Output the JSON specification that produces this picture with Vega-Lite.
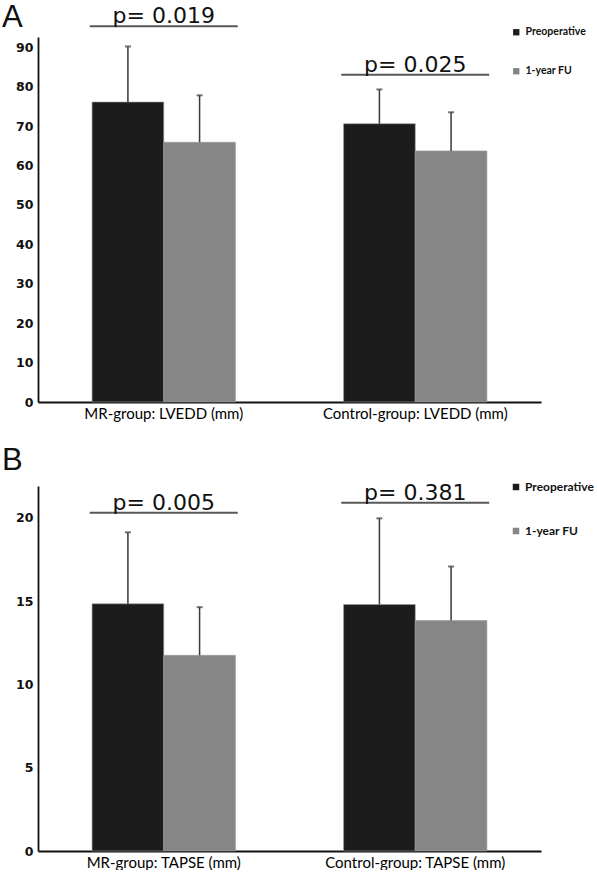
{
  "$schema": "https://vega.github.io/schema/vega-lite/v6.json",
  "background": "white",
  "padding": {"left": 2, "top": 2, "right": 0, "bottom": 0},
  "spacing": 24,
  "config": {
    "view": {"stroke": null},
    "title": {"font": "Liberation Sans", "fontSize": 31, "fontWeight": "normal", "anchor": "start", "frame": "group", "color": "#111111"},
    "axis": {"grid": false, "ticks": false, "domainColor": "#111111", "domainWidth": 1.8, "title": null},
    "axisX": {"labelAngle": 0, "labelFont": "Lato", "labelFontSize": 15, "labelColor": "#000000", "labelPadding": 4, "labelLimit": 320},
    "axisY": {"labelFont": "DejaVu Sans", "labelFontWeight": "bold", "labelFontSize": 12.5, "labelColor": "#111111", "labelPadding": 5},
    "legend": {"padding": 0, "title": null, "symbolType": "square", "symbolStrokeWidth": 0, "labelFont": "Lato", "labelFontWeight": "bold", "labelColor": "#111111", "orient": "none", "labelLimit": 200}
  },
  "resolve": {"scale": {"color": "independent", "x": "independent", "y": "independent", "xOffset": "independent"}, "legend": {"color": "independent"}},
  "vconcat": [
    {
      "title": {"text": "A", "dx": -36, "offset": -29},
      "width": 503,
      "height": 365,
      "data": {"values": [
        {"group": "MR-group: LVEDD (mm)", "series": "Preoperative", "mean": 76.1, "upper": 90.2},
        {"group": "MR-group: LVEDD (mm)", "series": "1-year FU", "mean": 65.9, "upper": 77.8},
        {"group": "Control-group: LVEDD (mm)", "series": "Preoperative", "mean": 70.6, "upper": 79.3},
        {"group": "Control-group: LVEDD (mm)", "series": "1-year FU", "mean": 63.7, "upper": 73.5}
      ]},
      "encoding": {
        "x": {"field": "group", "type": "nominal", "sort": ["MR-group: LVEDD (mm)", "Control-group: LVEDD (mm)"], "scale": {"paddingInner": 0.43, "paddingOuter": 0.215}}
      },
      "layer": [
        {
          "mark": {"type": "bar", "stroke": "#9a9a9a", "strokeWidth": 0.6},
          "encoding": {
            "xOffset": {"field": "series", "type": "nominal", "sort": ["Preoperative", "1-year FU"], "scale": {"paddingInner": 0, "paddingOuter": 0}},
            "y": {"field": "mean", "type": "quantitative", "scale": {"domain": [0, 92.6], "nice": false}, "axis": {"values": [0, 10, 20, 30, 40, 50, 60, 70, 80, 90]}},
            "color": {"field": "series", "type": "nominal", "sort": ["Preoperative", "1-year FU"], "scale": {"domain": ["Preoperative", "1-year FU"], "range": ["#1c1c1c", "#868686"]},
              "legend": {"legendX": 473, "legendY": -10, "symbolSize": 40, "labelFontSize": 10.5, "rowPadding": 28}}
          }
        },
        {
          "mark": {"type": "rule", "color": "#3a3a3a", "strokeWidth": 1.5},
          "encoding": {
            "xOffset": {"field": "series", "type": "nominal", "sort": ["Preoperative", "1-year FU"]},
            "y": {"field": "mean", "type": "quantitative"},
            "y2": {"field": "upper"}
          }
        },
        {
          "mark": {"type": "tick", "color": "#3a3a3a", "size": 6, "thickness": 2, "orient": "horizontal"},
          "encoding": {
            "xOffset": {"field": "series", "type": "nominal", "sort": ["Preoperative", "1-year FU"]},
            "y": {"field": "upper", "type": "quantitative"}
          }
        },
        {
          "data": {"values": [
            {"group": "MR-group: LVEDD (mm)", "pos": 95.3, "label": "p= 0.019"},
            {"group": "Control-group: LVEDD (mm)", "pos": 83.0, "label": "p= 0.025"}
          ]},
          "layer": [
            {"mark": {"type": "tick", "color": "#111111", "size": 148, "thickness": 2, "orient": "horizontal", "clip": false},
             "encoding": {"y": {"field": "pos", "type": "quantitative"}}},
            {"mark": {"type": "text", "font": "DejaVu Sans", "fontSize": 22, "color": "#111111", "baseline": "alphabetic", "dy": -3, "clip": false},
             "encoding": {"y": {"field": "pos", "type": "quantitative"}, "text": {"field": "label"}}}
          ]
        }
      ]
    },
    {
      "title": {"text": "B", "dx": -36, "offset": 4},
      "width": 503,
      "height": 365,
      "data": {"values": [
        {"group": "MR-group: TAPSE (mm)", "series": "Preoperative", "mean": 14.83, "upper": 19.12},
        {"group": "MR-group: TAPSE (mm)", "series": "1-year FU", "mean": 11.74, "upper": 14.63},
        {"group": "Control-group: TAPSE (mm)", "series": "Preoperative", "mean": 14.79, "upper": 19.96},
        {"group": "Control-group: TAPSE (mm)", "series": "1-year FU", "mean": 13.83, "upper": 17.07}
      ]},
      "encoding": {
        "x": {"field": "group", "type": "nominal", "sort": ["MR-group: TAPSE (mm)", "Control-group: TAPSE (mm)"], "scale": {"paddingInner": 0.43, "paddingOuter": 0.215}}
      },
      "layer": [
        {
          "mark": {"type": "bar", "stroke": "#9a9a9a", "strokeWidth": 0.6},
          "encoding": {
            "xOffset": {"field": "series", "type": "nominal", "sort": ["Preoperative", "1-year FU"], "scale": {"paddingInner": 0, "paddingOuter": 0}},
            "y": {"field": "mean", "type": "quantitative", "scale": {"domain": [0, 21.9], "nice": false}, "axis": {"values": [0, 5, 10, 15, 20]}},
            "color": {"field": "series", "type": "nominal", "sort": ["Preoperative", "1-year FU"], "scale": {"domain": ["Preoperative", "1-year FU"], "range": ["#1c1c1c", "#868686"]},
              "legend": {"legendX": 472, "legendY": -5, "symbolSize": 42, "labelFontSize": 12, "labelOffset": 3, "rowPadding": 32}}
          }
        },
        {
          "mark": {"type": "rule", "color": "#3a3a3a", "strokeWidth": 1.5},
          "encoding": {
            "xOffset": {"field": "series", "type": "nominal", "sort": ["Preoperative", "1-year FU"]},
            "y": {"field": "mean", "type": "quantitative"},
            "y2": {"field": "upper"}
          }
        },
        {
          "mark": {"type": "tick", "color": "#3a3a3a", "size": 6, "thickness": 2, "orient": "horizontal"},
          "encoding": {
            "xOffset": {"field": "series", "type": "nominal", "sort": ["Preoperative", "1-year FU"]},
            "y": {"field": "upper", "type": "quantitative"}
          }
        },
        {
          "data": {"values": [
            {"group": "MR-group: TAPSE (mm)", "pos": 20.3, "label": "p= 0.005"},
            {"group": "Control-group: TAPSE (mm)", "pos": 20.9, "label": "p= 0.381"}
          ]},
          "layer": [
            {"mark": {"type": "tick", "color": "#111111", "size": 148, "thickness": 2, "orient": "horizontal", "clip": false},
             "encoding": {"y": {"field": "pos", "type": "quantitative"}}},
            {"mark": {"type": "text", "font": "DejaVu Sans", "fontSize": 22, "color": "#111111", "baseline": "alphabetic", "dy": -3, "clip": false},
             "encoding": {"y": {"field": "pos", "type": "quantitative"}, "text": {"field": "label"}}}
          ]
        }
      ]
    }
  ]
}
